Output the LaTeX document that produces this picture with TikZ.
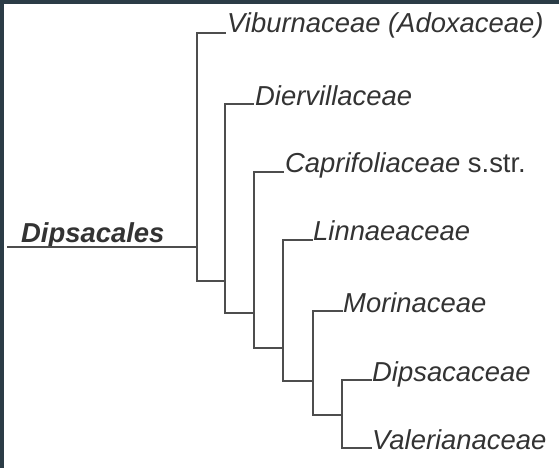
\documentclass[tikz,border=0pt]{standalone}
\usepackage{fontspec}
\setmainfont{Liberation Sans}
\definecolor{frame}{HTML}{2B3C46}
\definecolor{txt}{HTML}{333333}
\definecolor{ln}{HTML}{4D4D4D}
\begin{document}
\begin{tikzpicture}[x=1pt,y=-1pt,
  lab/.style={anchor=base west,inner sep=0pt,text=txt,font=\fontsize{27.4}{32}\selectfont\itshape},
  rootlab/.style={lab,font=\fontsize{27.4}{32}\selectfont\bfseries\itshape},
  br/.style={draw=ln,line width=1.6pt,line cap=rect}]
\useasboundingbox (0,0) rectangle (559,468);
\fill[white] (0,0) rectangle (559,468);
\fill[frame] (0,0) rectangle (4,468);
\fill[frame] (0,0) rectangle (559,4);
% junction / end coordinates
\coordinate (r0) at (8,247);
\coordinate (n1) at (197,247);
\coordinate (eVib) at (225,33);
\coordinate (c1) at (197,281);
\coordinate (d1) at (225,281);
\coordinate (eDier) at (253,104);
\coordinate (c2) at (225,313);
\coordinate (d2) at (254,313);
\coordinate (eCap) at (283,172);
\coordinate (c3) at (254,348);
\coordinate (d3) at (283,348);
\coordinate (eLin) at (312,240);
\coordinate (c4) at (283,381);
\coordinate (d4) at (313,381);
\coordinate (eMor) at (342,311);
\coordinate (c5) at (313,415);
\coordinate (d5) at (342,415);
\coordinate (eDip) at (371,380);
\coordinate (c6) at (342,448);
\coordinate (eVal) at (371,448);
% labels
\node[rootlab] (root) at (21,242) {Dipsacales};
\node[lab] (lVib) at ([xshift=2pt]eVib) {Viburnaceae (Adoxaceae)};
\node[lab] (lDier) at ([xshift=2pt,yshift=-2pt]eDier) {Diervillaceae};
\node[lab] (lCap) at ([xshift=2pt]eCap) {Caprifoliaceae \upshape s.str.};
\node[lab] (lLin) at ([xshift=1pt]eLin) {Linnaeaceae};
\node[lab] (lMor) at ([xshift=1pt,yshift=-1pt]eMor) {Morinaceae};
\node[lab] (lDip) at ([xshift=1pt,yshift=-1pt]eDip) {Dipsacaceae};
\node[lab] (lVal) at ([xshift=1pt,yshift=-1pt]eVal) {Valerianaceae};
% branches
\draw[br] (r0) -- (n1);
\draw[br] (eVib) -| (c1) -- (d1);
\draw[br] (eDier) -| (c2) -- (d2);
\draw[br] (eCap) -| (c3) -- (d3);
\draw[br] (eLin) -| (c4) -- (d4);
\draw[br] (eMor) -| (c5) -- (d5);
\draw[br] (eDip) -| (c6) -- (eVal);
\end{tikzpicture}
\end{document}
